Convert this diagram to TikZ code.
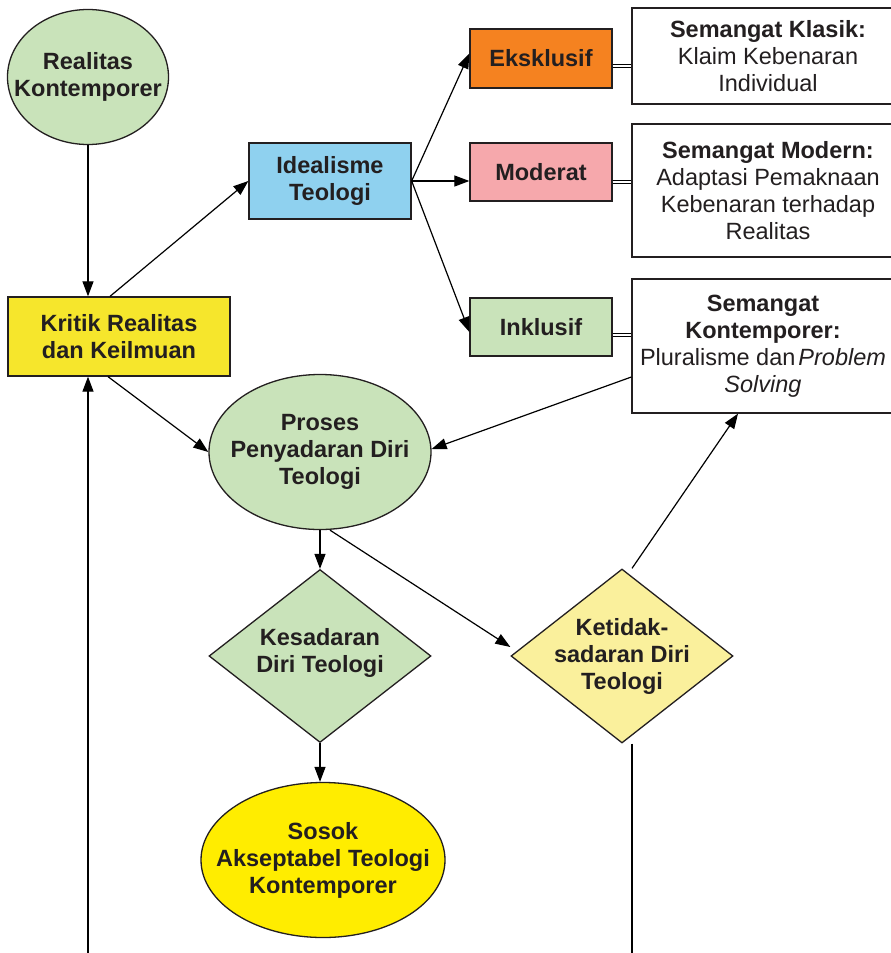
\documentclass[tikz,border=0pt]{standalone}
\usepackage{fontspec}
\setmainfont{Liberation Sans}
\usetikzlibrary{arrows.meta,shapes.geometric,positioning}

\definecolor{ijo}{HTML}{C9E3BA}
\definecolor{kuning}{HTML}{F6E62C}
\definecolor{biru}{HTML}{8FD1EF}
\definecolor{oranye}{HTML}{F58220}
\definecolor{merahmuda}{HTML}{F6A8AC}
\definecolor{kuningpucat}{HTML}{FAF09C}
\definecolor{kuningterang}{HTML}{FFED00}
\definecolor{tinta}{HTML}{231F20}

\tikzset{
  huruf/.style={text=tinta, font=\bfseries\fontsize{23.5}{27}\selectfont, align=center},
  bentuk/.style={huruf, draw=tinta, line width=1.3pt, inner sep=0pt},
  kotak/.style={bentuk, rectangle},
  elips/.style={bentuk, ellipse},
  wajik/.style={bentuk, diamond},
  isi/.style={huruf},
  ket/.style={bentuk, rectangle, fill=white, font=\fontsize{23.5}{27}\selectfont,
    minimum width=272, minimum height=96},
  panah/.style={draw=black, line width=1.2pt, -{Triangle[length=15pt,width=11pt]}},
  garis/.style={draw=black, line width=1.2pt},
  ganda/.style={draw=black, line width=1.3pt, double, double distance=2.2pt},
}

\begin{document}
\begin{tikzpicture}[x=1pt, y=-1pt]
  \useasboundingbox[fill=white] (0,0) rectangle (891,953);

  \node[elips, fill=ijo, minimum width=161, minimum height=135,
    label={[isi]center:Realitas\\Kontemporer}] (realitas) at (88,77) {};
  \node[kotak, fill=kuning, minimum width=222, minimum height=79] (kritik) at (119,336.5)
    {Kritik Realitas\\dan Keilmuan};
  \node[kotak, fill=biru, minimum width=162, minimum height=76] (idealisme) at (330,181)
    {Idealisme\\Teologi};

  \node[kotak, fill=oranye, minimum width=142, minimum height=59] (eksklusif) at (541,58.5) {Eksklusif};
  \node[kotak, fill=merahmuda, minimum width=142, minimum height=58] (moderat) at (541,172) {Moderat};
  \node[kotak, fill=ijo, minimum width=142, minimum height=58] (inklusif) at (541,327) {Inklusif};

  \node[ket] (klasik) at (768,56)
    {\textbf{Semangat Klasik:}\\Klaim Kebenaran\\Individual};
  \node[ket, minimum height=133] (modern) at (768,190.5)
    {\textbf{Semangat Modern:}\\Adaptasi Pemaknaan\\Kebenaran terhadap\\Realitas};
  \node[ket, minimum width=262, minimum height=134] (kontemporer) at (763,346)
    {\textbf{Semangat}\\\textbf{Kontemporer:}\\Pluralisme dan\hspace{3pt}\textit{Problem}\\\textit{Solving}};

  \node[elips, fill=ijo, minimum width=222, minimum height=155,
    label={[isi]center:Proses\\Penyadaran Diri\\Teologi}] (proses) at (320,452) {};
  \node[wajik, fill=ijo, minimum width=222, minimum height=173,
    label={[isi, yshift=3pt]center:Kesadaran\\Diri Teologi}] (kesadaran) at (320,656) {};
  \node[wajik, fill=kuningpucat, minimum width=222, minimum height=174,
    label={[isi]center:Ketidak-\\sadaran Diri\\Teologi}] (ketidak) at (622,656) {};
  \node[elips, fill=kuningterang, minimum width=244, minimum height=155,
    label={[isi]center:Sosok\\Akseptabel Teologi\\Kontemporer}] (sosok) at (323,860) {};

  \coordinate (kiribawah) at (88,953);
  \coordinate (kananbawah) at (632,953);

  \draw[panah] (realitas.south) -- (realitas.south |- kritik.north);
  \draw[panah] ([xshift=-9pt]kritik.north) -- (idealisme.west);
  \draw[panah] (idealisme.east) -- ([yshift=5pt]eksklusif.west);
  \draw[panah] (idealisme.east) -- (idealisme.east -| moderat.west);
  \draw[panah] (idealisme.east) -- ([yshift=-5pt]inklusif.west);

  \draw[ganda] ([yshift=-7.5pt]eksklusif.east) -- ([yshift=-7.5pt]eksklusif.east -| klasik.west);
  \draw[ganda] ([yshift=-10pt]moderat.east) -- ([yshift=-10pt]moderat.east -| modern.west);
  \draw[ganda] ([yshift=-8pt]inklusif.east) -- ([yshift=-8pt]inklusif.east -| kontemporer.west);

  \draw[panah] ([xshift=-11pt]kritik.south) -- (proses.west);
  \draw[panah] ([yshift=-31pt]kontemporer.west) -- ([yshift=3pt]proses.east);
  \draw[panah] (proses.south) -- (kesadaran.north);
  \draw[panah] ([xshift=10pt]proses.south) -- ([yshift=9pt]ketidak.west);
  \draw[panah] (kesadaran.south) -- (kesadaran.south |- sosok.north);
  \draw[panah] ([xshift=10pt]ketidak.north) -- ([xshift=-25pt]kontemporer.south);
  \draw[garis] ([xshift=10pt]ketidak.south) -- (kananbawah);
  \draw[panah] (kiribawah) -- (kiribawah |- kritik.south);
\end{tikzpicture}
\end{document}
